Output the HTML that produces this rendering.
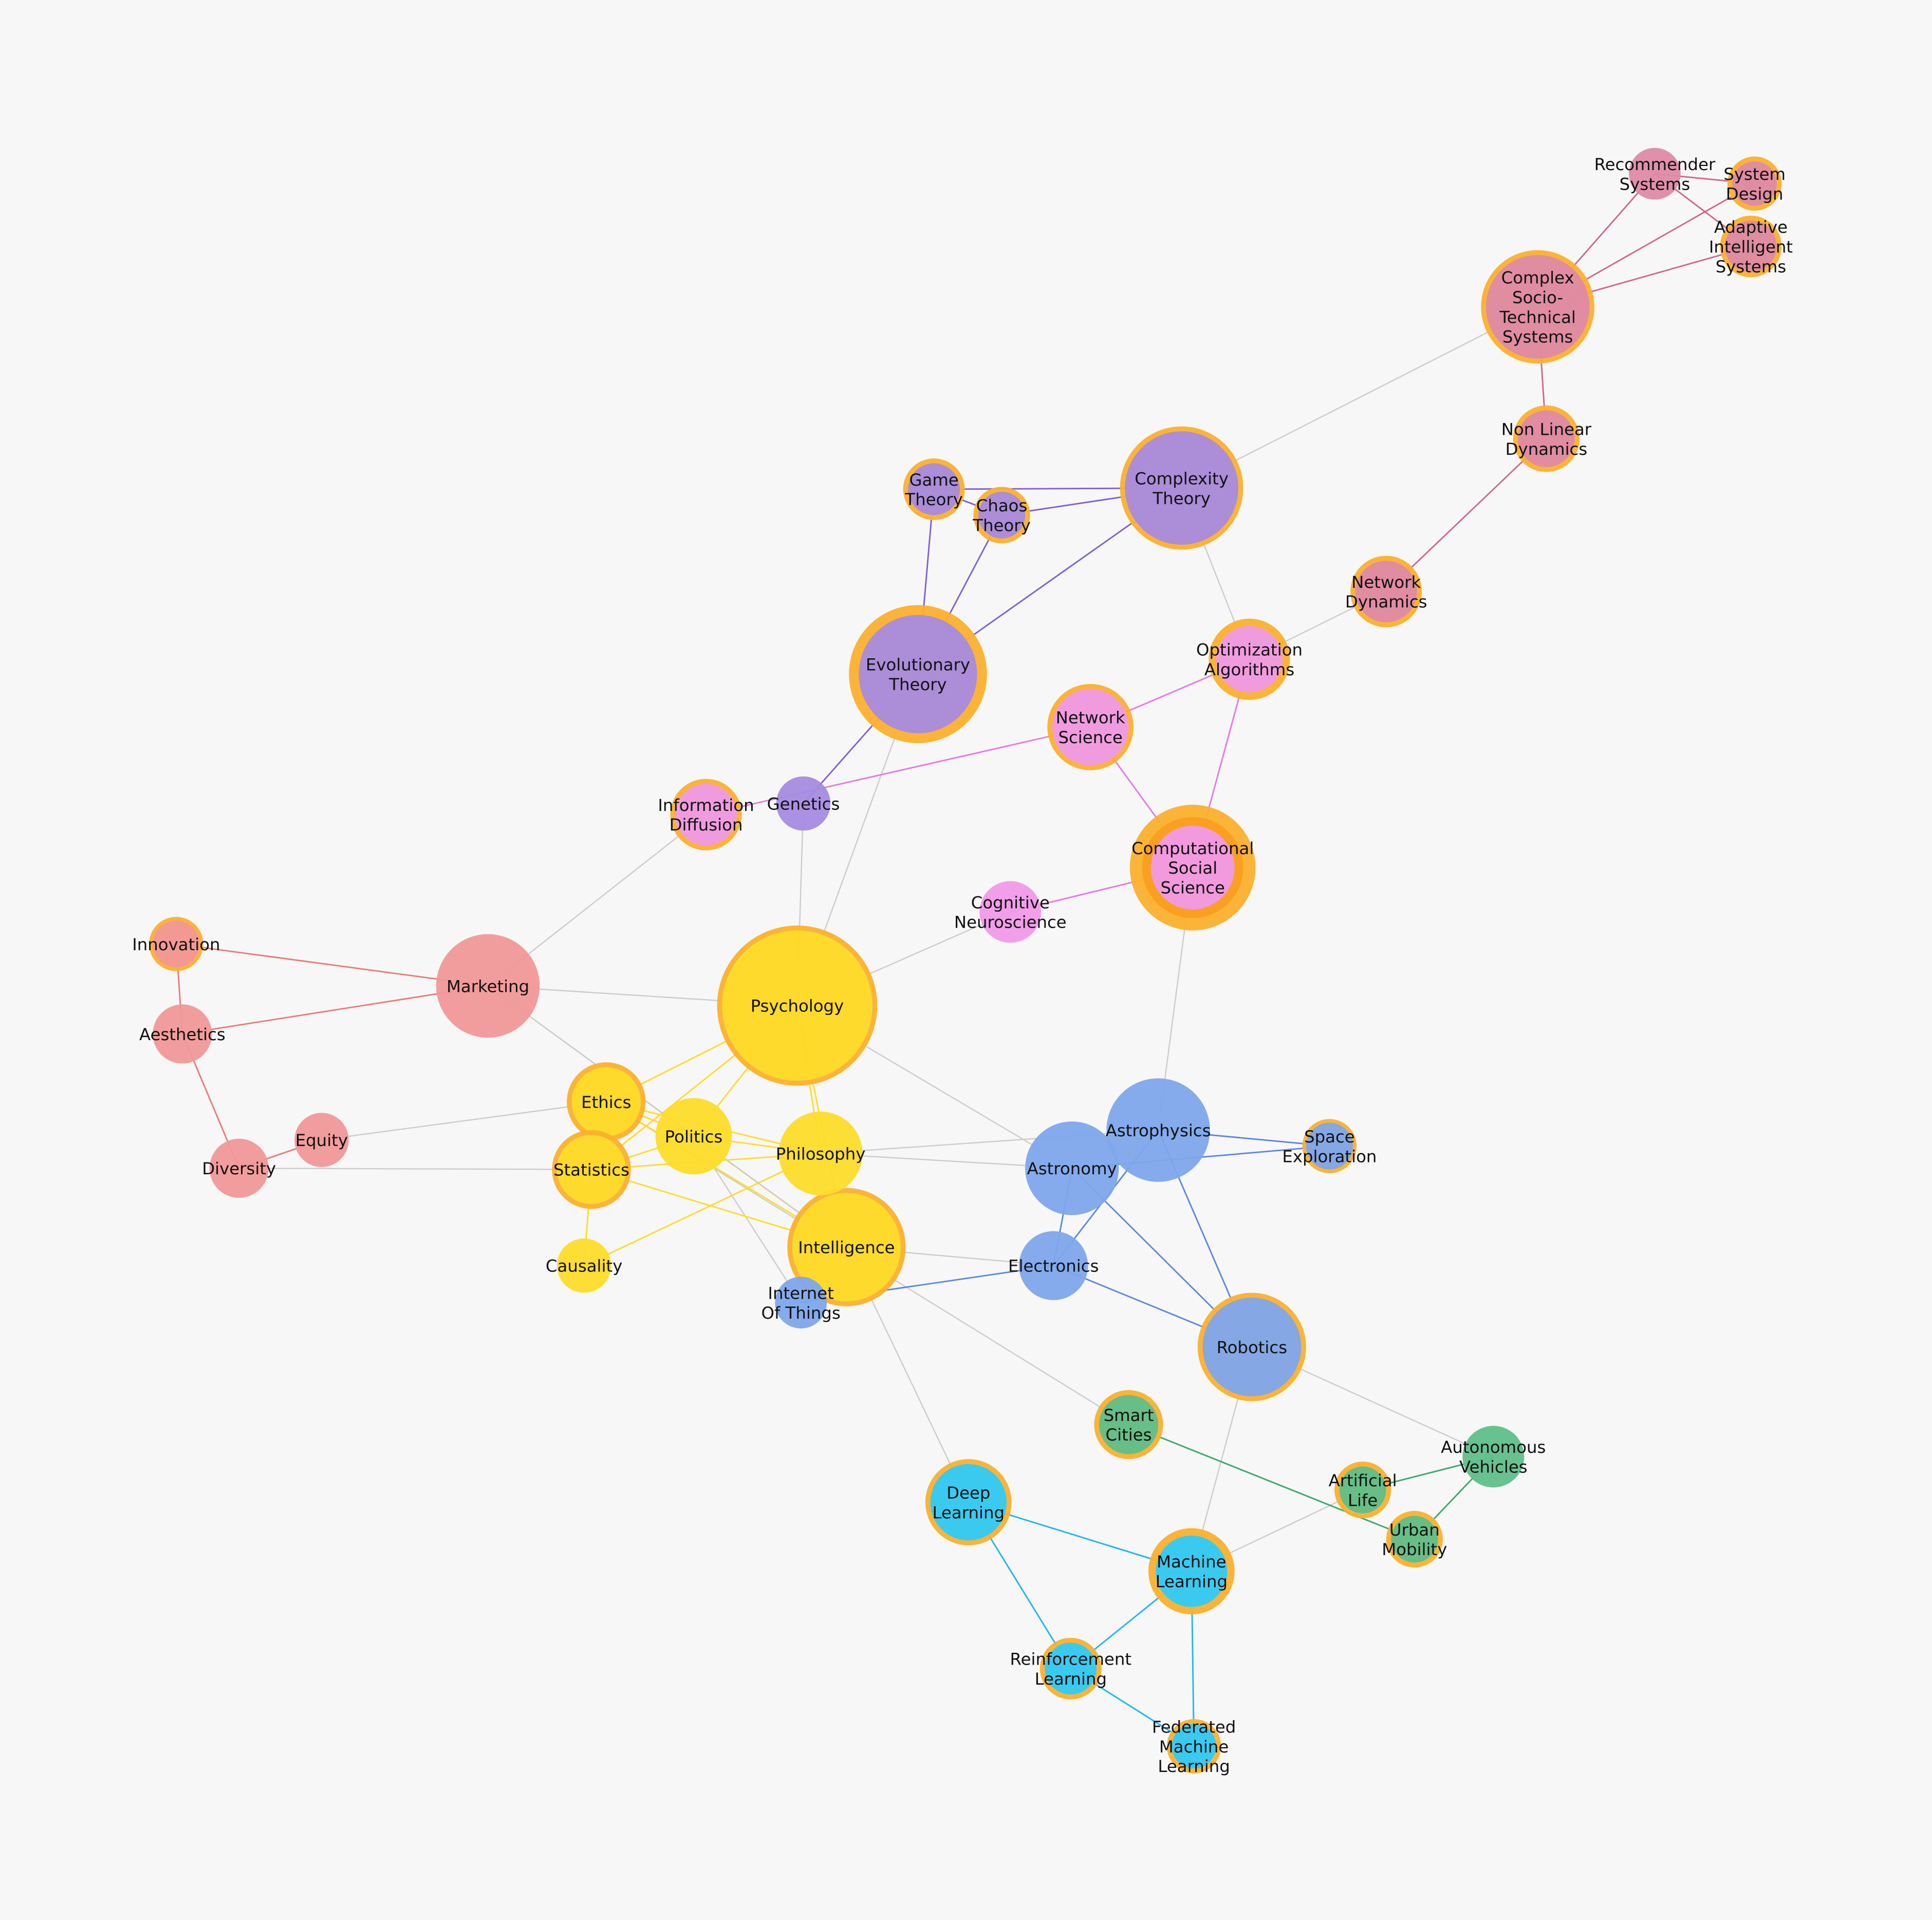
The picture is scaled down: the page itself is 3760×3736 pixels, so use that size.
<!DOCTYPE html>
<html><head><meta charset="utf-8"><style>
html,body{margin:0;padding:0;background:#f7f7f7;}
svg{display:block;}
text{font-family:"DejaVu Sans","Liberation Sans",sans-serif;font-size:13.5px;fill:#111;text-anchor:middle;}
</style></head><body>
<svg id="chart" width="3760" height="3736" viewBox="0 0 1568 1558" xmlns="http://www.w3.org/2000/svg">
<rect width="1568" height="1558" fill="#f7f7f7"/>
<g id="edges"></g>
<g id="nodes"></g>
</svg>
<script>
const catColors = {Y:"#fddc2a",P:"#a68be0",K:"#f09ae8",S:"#f19898",M:"#de8aa6",B:"#7ea6ec",C:"#2fcbfa",G:"#5fbf8a"};
const nodeNames = ["Psychology","Intelligence","Philosophy","Politics","Ethics","Statistics","Causality","Marketing","Innovation","Aesthetics","Diversity","Equity","Information Diffusion","Genetics","Evolutionary Theory","Game Theory","Chaos Theory","Complexity Theory","Network Science","Optimization Algorithms","Computational Social Science","Cognitive Neuroscience","Network Dynamics","Non Linear Dynamics","Complex Socio-Technical Systems","Recommender Systems","System Design","Adaptive Intelligent Systems","Astrophysics","Astronomy","Space Exploration","Electronics","Internet Of Things","Robotics","Smart Cities","Autonomous Vehicles","Artificial Life","Urban Mobility","Deep Learning","Machine Learning","Reinforcement Learning","Federated Machine Learning"];
const nodeLabels = [["Psychology"],["Intelligence"],["Philosophy"],["Politics"],["Ethics"],["Statistics"],["Causality"],["Marketing"],["Innovation"],["Aesthetics"],["Diversity"],["Equity"],["Information","Diffusion"],["Genetics"],["Evolutionary","Theory"],["Game","Theory"],["Chaos","Theory"],["Complexity","Theory"],["Network","Science"],["Optimization","Algorithms"],["Computational","Social","Science"],["Cognitive","Neuroscience"],["Network","Dynamics"],["Non Linear","Dynamics"],["Complex","Socio-","Technical","Systems"],["Recommender","Systems"],["System","Design"],["Adaptive","Intelligent","Systems"],["Astrophysics"],["Astronomy"],["Space","Exploration"],["Electronics"],["Internet","Of Things"],["Robotics"],["Smart","Cities"],["Autonomous","Vehicles"],["Artificial","Life"],["Urban","Mobility"],["Deep","Learning"],["Machine","Learning"],["Reinforcement","Learning"],["Federated","Machine","Learning"]];
const nodeCats = ["Y","Y","Y","Y","Y","Y","Y","S","S","S","S","S","K","P","P","P","P","P","K","K","K","K","M","M","M","M","M","M","B","B","B","B","B","B","G","G","G","G","C","C","C","C"];
const nodeX = [647,687,666,563,492,480,474,396,143,148,194,261,573,652,745,758,813,959,885,1014,968,820,1125,1255,1248,1343,1424,1421,940,870,1079,855,650,1016,916,1212,1106,1148,786,967,869,969];
const nodeY = [816,1012,936,922,894,949,1027,800,766,839,948,925,661,652,547,397,418,396,590,535,704,740,480,356,249,141,149,200,917,948,930,1027,1057,1093,1156,1182,1209,1249,1219,1275,1354,1417];
const nodeR = [65,48,34,31,32,32,22,42,22,24,24,22,29,22,56,25,23,50,35,33,51,25,29,27,46,21,22,25,42,38,22,28,21,44,28,25,23,23,35,35,25,22];
const nodeRing = [4,4,0,0,4,4,0,0,3,0,0,0,4,0,8,4,4,4,4,6,10,0,4,4,4,0,4,4,0,0,3,0,0,4,4,0,4,4,4,6,4,4];
const edgeFrom = [17,17,19,18,0,0,0,7,7,0,11,10,2,1,1,3,4,20,33,33,39,0,0,0,0,0,4,4,4,5,5,5,5,3,6,3,8,8,9,9,10,15,15,16,14,14,14,13,12,18,19,21,24,24,24,25,25,24,23,28,29,28,28,29,31,31,29,38,38,39,39,40,34,36,35,7,7,2];
const edgeTo   = [24,19,22,19,13,14,21,12,0,29,4,5,28,31,38,32,34,28,39,35,36,4,5,3,2,1,3,2,1,3,2,1,6,1,2,2,7,9,7,10,11,17,16,17,15,16,17,14,18,20,20,20,25,26,27,26,27,23,22,30,30,31,33,33,33,32,31,39,40,40,41,41,37,35,37,3,1,29];
const edgeColors = {Y:"#fddc2a",P:"#7e5fd6",K:"#e57ae0",S:"#ec7a7a",M:"#d2668c",B:"#5b87e6",C:"#1ab8f2",G:"#3aa86c"};

const svgNS="http://www.w3.org/2000/svg";
const eg=document.getElementById("edges"), ng=document.getElementById("nodes");
for(let i=0;i<edgeFrom.length;i++){
  const a=edgeFrom[i], b=edgeTo[i];
  const same = nodeCats[a]===nodeCats[b];
  const l=document.createElementNS(svgNS,"line");
  l.setAttribute("x1",nodeX[a]);l.setAttribute("y1",nodeY[a]);
  l.setAttribute("x2",nodeX[b]);l.setAttribute("y2",nodeY[b]);
  l.setAttribute("stroke", same ? edgeColors[nodeCats[a]] : "#cccccc");
  l.setAttribute("stroke-width", same ? 1.2 : 1);
  
  
  eg.appendChild(l);
}
for(let i=0;i<nodeNames.length;i++){
  const g=document.createElementNS(svgNS,"g");
  
  
  const ring=nodeRing[i], r=nodeR[i];
  if(ring>0){
    const o=document.createElementNS(svgNS,"circle");
    o.setAttribute("cx",nodeX[i]);o.setAttribute("cy",nodeY[i]);o.setAttribute("r",r);
    o.setAttribute("fill","#fbb02d");o.setAttribute("fill-opacity","0.95");
    g.appendChild(o);
    if(ring>=10){
      const m=document.createElementNS(svgNS,"circle");
      m.setAttribute("cx",nodeX[i]);m.setAttribute("cy",nodeY[i]);m.setAttribute("r",r-ring);
      m.setAttribute("fill","#f9a020");
      g.appendChild(m);
    }
  }
  const c=document.createElementNS(svgNS,"circle");
  c.setAttribute("cx",nodeX[i]);c.setAttribute("cy",nodeY[i]);
  c.setAttribute("r", ring>=10 ? r-ring*1.7 : r-ring);
  c.setAttribute("fill",catColors[nodeCats[i]]);c.setAttribute("fill-opacity","0.95");
  g.appendChild(c);
  const lines=nodeLabels[i], lh=16;
  const t=document.createElementNS(svgNS,"text");
  
  
  lines.forEach((s,k)=>{
    const ts=document.createElementNS(svgNS,"tspan");
    ts.setAttribute("x",nodeX[i]);
    ts.setAttribute("y",nodeY[i]+5+(k-(lines.length-1)/2)*lh);
    ts.textContent=s;
    t.appendChild(ts);
  });
  g.appendChild(t);
  ng.appendChild(g);
}
</script>
</body></html>
